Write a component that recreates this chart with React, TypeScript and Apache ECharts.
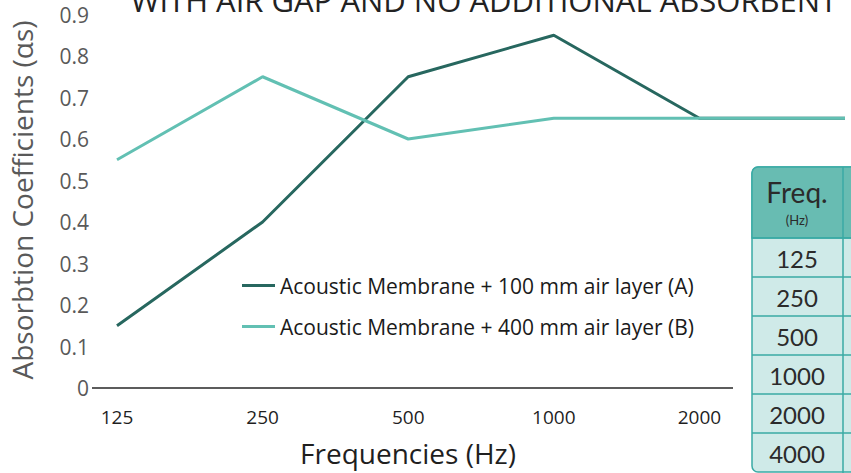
import React, { useEffect, useRef } from "react";
import * as echarts from "echarts";

const categories = ["125", "250", "500", "1000", "2000", "4000"];
const seriesA = [0.15, 0.4, 0.75, 0.85, 0.65, 0.65];
const seriesB = [0.55, 0.75, 0.6, 0.65, 0.65, 0.65];
const seriesNames = [
  "Acoustic Membrane + 100 mm air layer (A)",
  "Acoustic Membrane + 400 mm air layer (B)",
];
const tableFreqs = ["125", "250", "500", "1000", "2000", "4000"];
const titleText = "WITH AIR GAP AND NO ADDITIONAL ABSORBENT";

const colorA = "#27675f";
const colorB = "#62c0b3";

export default function App() {
  const ref = useRef<HTMLDivElement>(null);
  useEffect(() => {
    if (!ref.current) return;
    const chart = echarts.init(ref.current, undefined, { renderer: "svg" });
    const tblX = 752;
    const tblTop = 167;
    const headH = 71;
    const rowH = 39;
    const tableEls: any[] = [];
    tableEls.push({
      type: "rect",
      shape: { x: tblX, y: tblTop, width: 160, height: headH + rowH * tableFreqs.length, r: [6, 0, 0, 6] },
      style: { fill: "#cfeae8", stroke: "#3aaaa5", lineWidth: 1.5 },
    });
    tableEls.push({
      type: "rect",
      shape: { x: tblX, y: tblTop, width: 160, height: headH, r: [6, 0, 0, 0] },
      style: { fill: "#68bcb2", stroke: "#3aaaa5", lineWidth: 1.5 },
    });
    tableFreqs.forEach((f, i) => {
      const y0 = tblTop + headH + i * rowH;
      tableEls.push({
        type: "line",
        shape: { x1: tblX, y1: y0, x2: 860, y2: y0 },
        style: { stroke: "#3aaaa5", lineWidth: 1.5 },
      });
      tableEls.push({
        type: "text",
        x: 797,
        y: y0 + rowH / 2 + 1,
        style: {
          text: f,
          fontFamily: "Lato",
          fontSize: 24,
          fill: "#2b2b2b",
          align: "center",
          verticalAlign: "middle",
        },
      });
    });
    tableEls.push({
      type: "line",
      shape: { x1: 843, y1: tblTop, x2: 843, y2: 480 },
      style: { stroke: "#3aaaa5", lineWidth: 1.5 },
    });
    tableEls.push({
      type: "text",
      x: 797,
      y: 192,
      style: { text: "Freq.", fontFamily: "Lato", fontSize: 28, fill: "#2b2b2b", align: "center", verticalAlign: "middle" },
    });
    tableEls.push({
      type: "text",
      x: 797,
      y: 220,
      style: { text: "(Hz)", fontFamily: "Lato", fontSize: 13, fill: "#2b2b2b", align: "center", verticalAlign: "middle" },
    });

    chart.setOption({
      animation: false,
      grid: { left: 117, right: 6, top: 14.5, bottom: 85 },
      legend: {
        orient: "vertical",
        left: 237,
        top: 270,
        icon: "rect",
        itemWidth: 33,
        itemHeight: 3,
        itemGap: 20,
        data: seriesNames,
        textStyle: { fontFamily: "Open Sans", fontSize: 21, color: "#1a1a1a" },
      },
      xAxis: {
        type: "category",
        data: categories,
        boundaryGap: false,
        axisLine: { show: false },
        axisTick: { show: false },
        splitLine: { show: false },
        axisLabel: {
          margin: 19,
          fontFamily: "Open Sans",
          fontSize: 19,
          color: "#1f1f1f",
          formatter: (v: string, i: number) => (i === categories.length - 1 ? "" : v),
        },
      },
      yAxis: {
        type: "value",
        min: 0,
        max: 0.9,
        interval: 0.1,
        axisLine: { show: false },
        axisTick: { show: false },
        splitLine: { show: false },
        axisLabel: {
          margin: 28,
          fontFamily: "Open Sans",
          fontSize: 21,
          color: "#595959",
          formatter: (v: number) => (v === 0 ? "0" : v.toFixed(1)),
        },
      },
      series: [
        {
          name: seriesNames[0],
          type: "line",
          data: seriesA,
          symbol: "none",
          lineStyle: { color: colorA, width: 3 },
          itemStyle: { color: colorA },
        },
        {
          name: seriesNames[1],
          type: "line",
          data: seriesB,
          symbol: "none",
          lineStyle: { color: colorB, width: 3 },
          itemStyle: { color: colorB },
        },
      ],
      graphic: [
        {
          type: "line",
          shape: { x1: 92, y1: 388, x2: 733, y2: 388 },
          style: { stroke: "#262626", lineWidth: 1.3 },
          z: 1,
        },
        {
          type: "text",
          x: 484,
          y: 0,
          style: {
            text: titleText,
            fontFamily: "Open Sans",
            fontSize: 31,
            fill: "#222222",
            align: "center",
            verticalAlign: "middle",
          },
        },
        {
          type: "text",
          x: 22,
          y: 200,
          rotation: Math.PI / 2,
          style: {
            text: "Absorbtion Coefficients (αs)",
            fontFamily: "Open Sans",
            fontSize: 28,
            fill: "#595959",
            align: "center",
            verticalAlign: "middle",
          },
        },
        {
          type: "text",
          x: 408,
          y: 453,
          style: {
            text: "Frequencies (Hz)",
            fontFamily: "Open Sans",
            fontSize: 28,
            fill: "#1f1f1f",
            align: "center",
            verticalAlign: "middle",
          },
        },
        { type: "group", z: 100, children: tableEls },
      ],
    });
    return () => chart.dispose();
  }, []);
  return (
    <div
      ref={ref}
      style={{ position: "fixed", left: 0, top: 0, width: 851, height: 473, background: "#ffffff" }}
    />
  );
}
